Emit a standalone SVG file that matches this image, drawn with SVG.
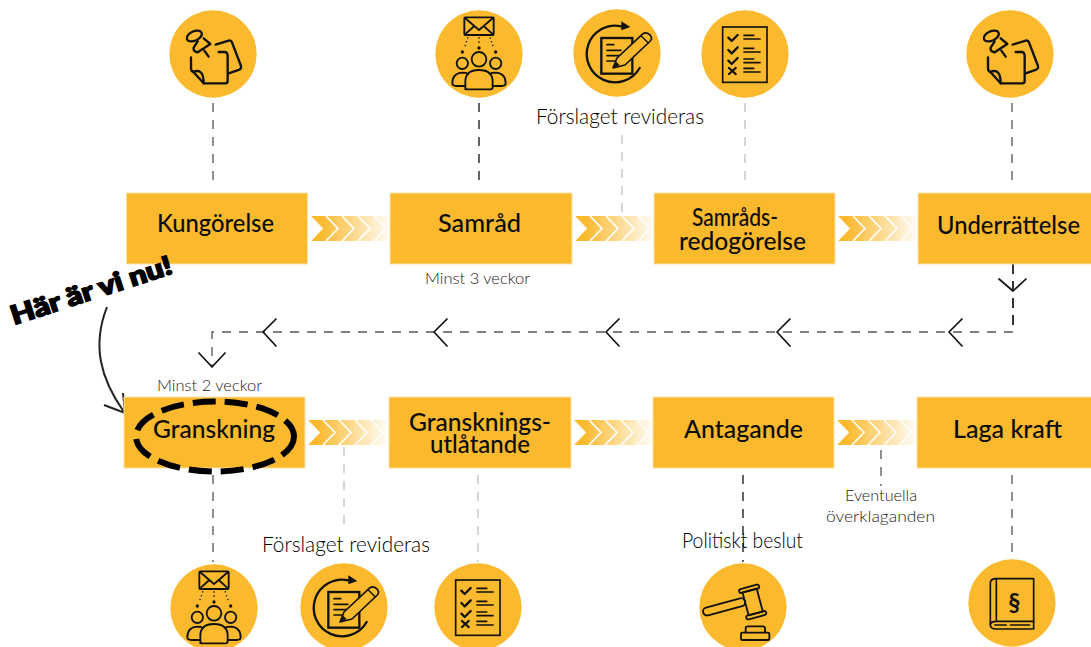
<svg xmlns="http://www.w3.org/2000/svg" xmlns:xlink="http://www.w3.org/1999/xlink" width="1091" height="647" viewBox="0 0 1091 647">
<style>
text{font-family:Lato,"Liberation Sans",sans-serif;fill:#111;text-anchor:middle}
.t{font-size:24px;font-weight:500;fill:#0c0c0c}
.l{font-size:21px;font-weight:300;fill:#000}
.s{font-size:16px;font-weight:300;fill:#222}
.box{fill:#fbb92d;stroke:#fde3a8;stroke-width:1}
.disc{fill:#fbb92d}
.ic{fill:none;stroke:#111;stroke-width:7;stroke-linecap:round;stroke-linejoin:round}
.d1{fill:none;stroke:#222;stroke-width:1.4;stroke-dasharray:9 8}
.d2{fill:none;stroke:#bbb;stroke-width:1.2;stroke-dasharray:9 8}
.d3{fill:none;stroke:#111;stroke-width:1.7;stroke-dasharray:10 7}
.d4{fill:none;stroke:#555;stroke-width:1.3;stroke-dasharray:9 8}
.h{fill:none;stroke:#111;stroke-width:1.7;stroke-linecap:round;stroke-linejoin:round}
.chev{fill:none;stroke:#fff;stroke-width:1.7}
</style>
<defs>
<linearGradient id="fade"><stop offset="0.15" stop-color="#fbb92d"/><stop offset="1" stop-color="#fbb92d" stop-opacity="0.02"/></linearGradient>
<g id="band">
<rect x="0" y="0" width="83" height="25" fill="url(#fade)"/>
<path class="chev" d="M2,0L14,12.500L2,25M18,0L30,12.500L18,25M34,0L46,12.500L34,25M50,0L62,12.500L50,25M66,0L78,12.500L66,25"/>
<path d="M0,0L2,0L14,12.500L2,25L0,25Z" fill="#fff"/>
</g>
<g id="i-pin"><circle class="disc" r="131"/><g class="ic">
<ellipse cx="-56" cy="-54" rx="24" ry="14" transform="rotate(-25 -56 -54)"/>
<path d="M-46,-38L-58,-19Q-60,-8-46,-5L-8,-30L-28,-47"/><path d="M-26,-10L-13,8"/>
<path d="M-66,10V43Q-66,52-58,55L-28,88H37Q44,88 44,81V6Q44,-6 34,-6H17"/><path d="M-58,53Q-28,42-28,88"/>
<path d="M8,-28L47,-40Q54,-42 57,-35L84,36Q86,44 79,47L47,58"/></g></g>
<g id="i-people"><circle class="disc" r="131"/><g class="ic" style="stroke-width:5.500px">
<rect x="-44" y="-110" width="88" height="53" rx="3"/><path d="M-42,-108L0,-72L42,-108M-42,-59L-14,-84M42,-59L14,-84"/>
<circle cx="-50" cy="28" r="17"/><circle cy="16" r="22"/><circle cx="50" cy="28" r="17"/>
<path d="M-41,106V83Q-41,48 0,48Q41,48 41,83V100Q41,106 35,106H-35Q-41,106-41,100Z"/>
<path d="M-41,96H-68Q-80,96-80,88Q-80,58-50,56Q-38,56-32,60M41,96H68Q80,96 80,88Q80,58 50,56Q38,56 32,60"/>
<path stroke-width="4" stroke-linecap="butt" stroke-dasharray="4 8" d="M-33,-50L-43,-22M0,-50V-28M33,-50L43,-22"/></g>
<circle cx="-50" cy="-6" r="5" fill="#111"/><circle cy="-18" r="5" fill="#111"/><circle cx="50" cy="-6" r="5" fill="#111"/></g>
<g id="i-revise"><circle class="disc" r="131"/><g class="ic">
<path d="M68,45A85,85 0 1 1 13,-80"/><path fill="#111" stroke="none" d="M13,-95L40,-78L13,-68Z"/>
<rect x="-47" y="-45" width="93" height="107" stroke-linejoin="miter"/>
<path stroke-width="5" d="M-30,-25H-10M-30,-8H12M-30,8H12M-30,24H-5"/>
<path fill="#fbb92d" stroke-width="5" d="M-12,45L0,15L78,-58Q88,-64 98,-55Q108,-45 100,-36L24,36Z"/>
<path fill="#111" stroke="none" d="M-12,45L-4,25L8,36Z"/><path stroke-width="4" d="M72,-52L94,-30"/></g></g>
<g id="i-check"><circle class="disc" r="131"/><g class="ic">
<rect x="-67" y="-81" width="133" height="166" style="stroke-width:5px" stroke-linejoin="miter"/>
<path d="M-50,-49L-40,-39L-22,-57M-50,-12L-40,-2L-22,-20M-50,20L-40,30L-22,12M-48,42L-28,60M-28,42L-48,60"/>
<path stroke-width="5" stroke-linecap="butt" d="M-5,-56H28M-5,-45H47M-5,-17H28M-5,-6H47M-5,15H28M-5,26H47M-5,43H28M-5,54H47"/></g></g>
<g id="i-gavel"><circle class="disc" r="131"/><g class="ic" style="stroke-width:5.500px" fill="#fbb92d">
<rect x="-122" y="-13" width="130" height="24" rx="12" transform="rotate(-15 -55 -2)"/>
<g transform="translate(29,-15) rotate(-15)"><rect x="-22" y="-36" width="44" height="72"/><rect x="-31" y="-47" width="62" height="12" rx="6"/><rect x="-31" y="35" width="62" height="12" rx="6"/></g>
<path d="M8,76V64Q8,58 14,58H60Q66,58 66,64V76"/><rect x="-6" y="77" width="85" height="22" rx="4"/></g></g>
<g id="i-book"><circle class="disc" r="131"/><g class="ic" style="stroke-width:5px">
<path d="M-47,-73H65V78H-47Q-65,78-65,65V-60Q-65,-73-47,-73Z"/><path d="M-47,-73V55M-65,65Q-65,55-47,55H65"/><path d="M-52,66H-17M-5,66H53"/></g>
<text x="7" y="24" style="font-size:72px;font-weight:700;fill:#111">§</text></g>
</defs>

<g id="connectors">
<path class="d4" d="M213,103V188"/>
<path class="d1" d="M479,103V188"/>
<path class="d2" d="M622,135V216"/>
<path class="d2" d="M745,103V188"/>
<path class="d4" d="M1012,103V188"/>
<path class="d3" d="M1013,264V332"/>
<path class="d4" d="M1013,332H212V366"/>
<path class="h" d="M999,279L1013,291L1026,279M962,319L949,332L962,346M790,319L777,332L790,346M619,319L606,332L619,346M447,319L434,332L447,346M276,319L263,332L276,346M199,353L212,367L225,353"/>
<path class="d4" d="M213,475V562"/>
<path class="d2" d="M344,447V526"/>
<path class="d2" d="M478,475V562"/>
<path class="d1" d="M743,475V562"/>
<path class="d4" d="M881,450V486"/>
<path class="d4" d="M1012,475V560"/>
<use xlink:href="#band" href="#band" x="308" y="216"/>
<use xlink:href="#band" href="#band" x="572" y="216"/>
<use xlink:href="#band" href="#band" x="835" y="216"/>
<use xlink:href="#band" href="#band" x="305" y="420"/>
<use xlink:href="#band" href="#band" x="571" y="420"/>
<use xlink:href="#band" href="#band" x="834" y="420"/>
<path d="M107,307C92,345 100,378 124,412" fill="none" stroke="#222" stroke-width="2"/>
<path d="M104,405L125,413L123,393" fill="none" stroke="#222" stroke-width="2"/>
</g>

<g id="icon-kungorelse"><use xlink:href="#i-pin" href="#i-pin" transform="translate(213,54) scale(.3333)"/></g>
<g id="icon-samrad"><use xlink:href="#i-people" href="#i-people" transform="translate(479,54) scale(.3333)"/></g>
<g id="icon-revidera-1"><use xlink:href="#i-revise" href="#i-revise" transform="translate(617,53) scale(.3333)"/></g>
<g id="icon-redogorelse"><use xlink:href="#i-check" href="#i-check" transform="translate(745,54) scale(.3333)"/></g>
<g id="icon-underrattelse"><use xlink:href="#i-pin" href="#i-pin" transform="translate(1010,54) scale(.3333)"/></g>
<g id="icon-granskning"><use xlink:href="#i-people" href="#i-people" transform="translate(214,608) scale(.3333)"/></g>
<g id="icon-revidera-2"><use xlink:href="#i-revise" href="#i-revise" transform="translate(344,607) scale(.3333)"/></g>
<g id="icon-utlatande"><use xlink:href="#i-check" href="#i-check" transform="translate(478,607) scale(.3333)"/></g>
<g id="icon-beslut"><use xlink:href="#i-gavel" href="#i-gavel" transform="translate(743,607) scale(.3333)"/></g>
<g id="icon-laga-kraft"><use xlink:href="#i-book" href="#i-book" transform="translate(1012,603) scale(.3333)"/></g>

<g id="node-kungorelse"><rect class="box" x="126.500" y="193" width="181" height="71"/><text class="t" x="215.500" y="232" textLength="117" lengthAdjust="spacingAndGlyphs">Kungörelse</text></g>
<g id="node-samrad"><rect class="box" x="390" y="193" width="182" height="71"/><text class="t" x="479.500" y="232" textLength="83" lengthAdjust="spacingAndGlyphs">Samråd</text></g>
<g id="node-redogorelse"><rect class="box" x="654" y="193" width="181" height="71"/><text class="t" x="735" y="226" textLength="86" lengthAdjust="spacingAndGlyphs">Samråds-</text><text class="t" x="742.500" y="250" textLength="127" lengthAdjust="spacingAndGlyphs">redogörelse</text></g>
<g id="node-underrattelse"><rect class="box" x="918" y="193" width="174" height="71"/><text class="t" x="1008.500" y="234" textLength="143" lengthAdjust="spacingAndGlyphs">Underrättelse</text></g>
<g id="node-granskning"><rect class="box" x="124" y="397" width="181" height="71"/><text class="t" x="214" y="438" textLength="122" lengthAdjust="spacingAndGlyphs">Granskning</text><ellipse cx="215" cy="436.500" rx="79" ry="35" fill="none" stroke="#000" stroke-width="6" stroke-dasharray="23 9"/></g>
<g id="node-utlatande"><rect class="box" x="389" y="397" width="182" height="71"/><text class="t" x="480" y="431" textLength="142" lengthAdjust="spacingAndGlyphs">Gransknings-</text><text class="t" x="480" y="453" textLength="100" lengthAdjust="spacingAndGlyphs">utlåtande</text></g>
<g id="node-antagande"><rect class="box" x="653" y="397" width="181" height="71"/><text class="t" x="743.500" y="438" textLength="119" lengthAdjust="spacingAndGlyphs">Antagande</text></g>
<g id="node-laga-kraft"><rect class="box" x="917" y="397" width="175" height="71"/><text class="t" x="1007.500" y="438" textLength="109" lengthAdjust="spacingAndGlyphs">Laga kraft</text></g>

<g id="labels">
<text class="l" x="620" y="124" textLength="168" lengthAdjust="spacingAndGlyphs">Förslaget revideras</text>
<text class="s" x="477.500" y="284" textLength="105" lengthAdjust="spacingAndGlyphs">Minst 3 veckor</text>
<text class="s" x="209.500" y="391" textLength="105" lengthAdjust="spacingAndGlyphs">Minst 2 veckor</text>
<text class="l" x="346" y="552" textLength="168" lengthAdjust="spacingAndGlyphs">Förslaget revideras</text>
<text class="l" x="742.500" y="548" textLength="121" lengthAdjust="spacingAndGlyphs">Politiskt beslut</text>
<text class="s" x="881" y="501" textLength="72" lengthAdjust="spacingAndGlyphs">Eventuella</text>
<text class="s" x="880.500" y="522" textLength="109" lengthAdjust="spacingAndGlyphs">överklaganden</text>
<text transform="translate(94,299) rotate(-18)" textLength="168" lengthAdjust="spacingAndGlyphs" style="font-size:26px;font-weight:900;fill:#000;stroke:#000;stroke-width:1.6px">Här är vi nu!</text>
</g>
</svg>
